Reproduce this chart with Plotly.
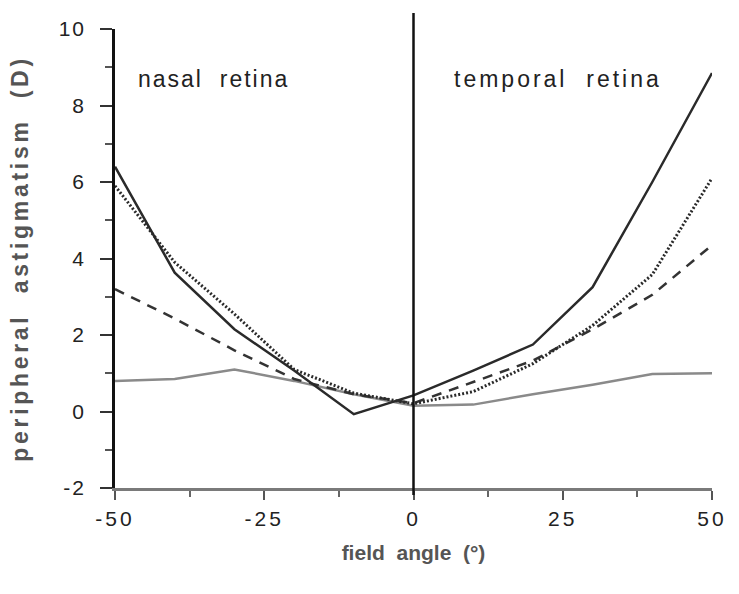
import plotly.graph_objects as go

# field angle (deg)
angles = [-50, -40, -30, -20, -10, 0, 10, 20, 30, 40, 50]
# peripheral astigmatism (D) for four curves
solid_dark = [6.4, 3.63, 2.15, 1.07, -0.07, 0.42, 1.07, 1.75, 3.25, 6.0, 8.85]
dotted = [5.9, 3.9, 2.55, 1.1, 0.48, 0.2, 0.52, 1.25, 2.25, 3.58, 6.1]
dashed = [3.2, 2.43, 1.6, 0.85, 0.45, 0.22, 0.77, 1.33, 2.15, 3.05, 4.35]
solid_gray = [0.8, 0.85, 1.1, 0.8, 0.45, 0.15, 0.18, 0.45, 0.7, 0.98, 1.0]

x_tickvals = [-50, -25, 0, 25, 50]
x_ticktext = ["-50", "-25", "0", "25", "50"]
y_tickvals = [-2, 0, 2, 4, 6, 8, 10]
y_ticktext = ["-2", "0", "2", "4", "6", "8", "10"]

FONT = "Liberation Sans, Arial, sans-serif"
LS = "letter-spacing:2px"


def sp(t, ls=LS):
    return f'<span style="{ls}">{t}</span>'


fig = go.Figure()
fig.add_trace(go.Scatter(x=angles, y=solid_gray, mode="lines",
                         line=dict(color="#8a8a8a", width=2.5)))
fig.add_trace(go.Scatter(x=angles, y=dashed, mode="lines",
                         line=dict(color="#333333", width=2.5, dash="10px,8px")))
fig.add_trace(go.Scatter(x=angles, y=dotted, mode="lines",
                         line=dict(color="#2a2a2a", width=3, dash="2px,2px")))
fig.add_trace(go.Scatter(x=angles, y=solid_dark, mode="lines",
                         line=dict(color="#2a2a2a", width=2.5)))

# vertical line at 0 deg
fig.add_shape(type="line", xref="x", yref="paper", x0=0, x1=0, y0=-0.015, y1=1.035,
              line=dict(color="#111111", width=2.5))

fig.add_annotation(xref="paper", yref="paper", x=0.035, y=0.89, xanchor="left", yanchor="middle",
                   text=sp("nasal  retina", "letter-spacing:2px"), showarrow=False,
                   font=dict(family=FONT, size=23, color="#222222"))
fig.add_annotation(xref="paper", yref="paper", x=0.564, y=0.89, xanchor="left", yanchor="middle",
                   text=sp("temporal  retina", "letter-spacing:3px"), showarrow=False,
                   font=dict(family=FONT, size=23, color="#222222"))

fig.update_layout(
    width=739, height=594,
    margin=dict(l=115, r=27, t=29, b=106),
    paper_bgcolor="white", plot_bgcolor="white",
    showlegend=False,
    font=dict(family=FONT, color="#222222"),
)
fig.update_xaxes(
    range=[-50, 50], showgrid=False, zeroline=False,
    showline=True, linecolor="#7a7a7a", linewidth=2.5,
    ticks="outside", ticklen=9, tickwidth=2, tickcolor="#555555",
    tickvals=x_tickvals, ticktext=[sp(t, "letter-spacing:3px") for t in x_ticktext],
    tickfont=dict(family=FONT, size=21, color="#222222"),
    ticklabelstandoff=1,
    minor=dict(tickvals=[-37.5, -12.5, 12.5, 37.5], ticks="outside", ticklen=6,
               tickwidth=2, tickcolor="#666666"),
    title=dict(text="<b>" + sp("field  angle  (°)", "letter-spacing:0px") + "</b>",
               font=dict(family=FONT, size=21, color="#555555"), standoff=17),
)
fig.update_yaxes(
    range=[-2, 10], showgrid=False, zeroline=False,
    showline=True, linecolor="#111111", linewidth=2.5,
    ticks="outside", ticklen=12, tickwidth=2, tickcolor="#333333",
    tickvals=y_tickvals, ticktext=[sp(t) for t in y_ticktext],
    tickfont=dict(family=FONT, size=21, color="#222222"),
    ticklabelstandoff=10,
    minor=dict(tickvals=[-1, 1, 3, 5, 7, 9], ticks="outside", ticklen=7,
               tickwidth=2, tickcolor="#555555"),
    title=dict(text="<b>" + sp("peripheral  astigmatism  (D)", "letter-spacing:3.7px") + "</b>",
               font=dict(family=FONT, size=23, color="#555555"), standoff=24),
)

fig.write_html("out.html")
